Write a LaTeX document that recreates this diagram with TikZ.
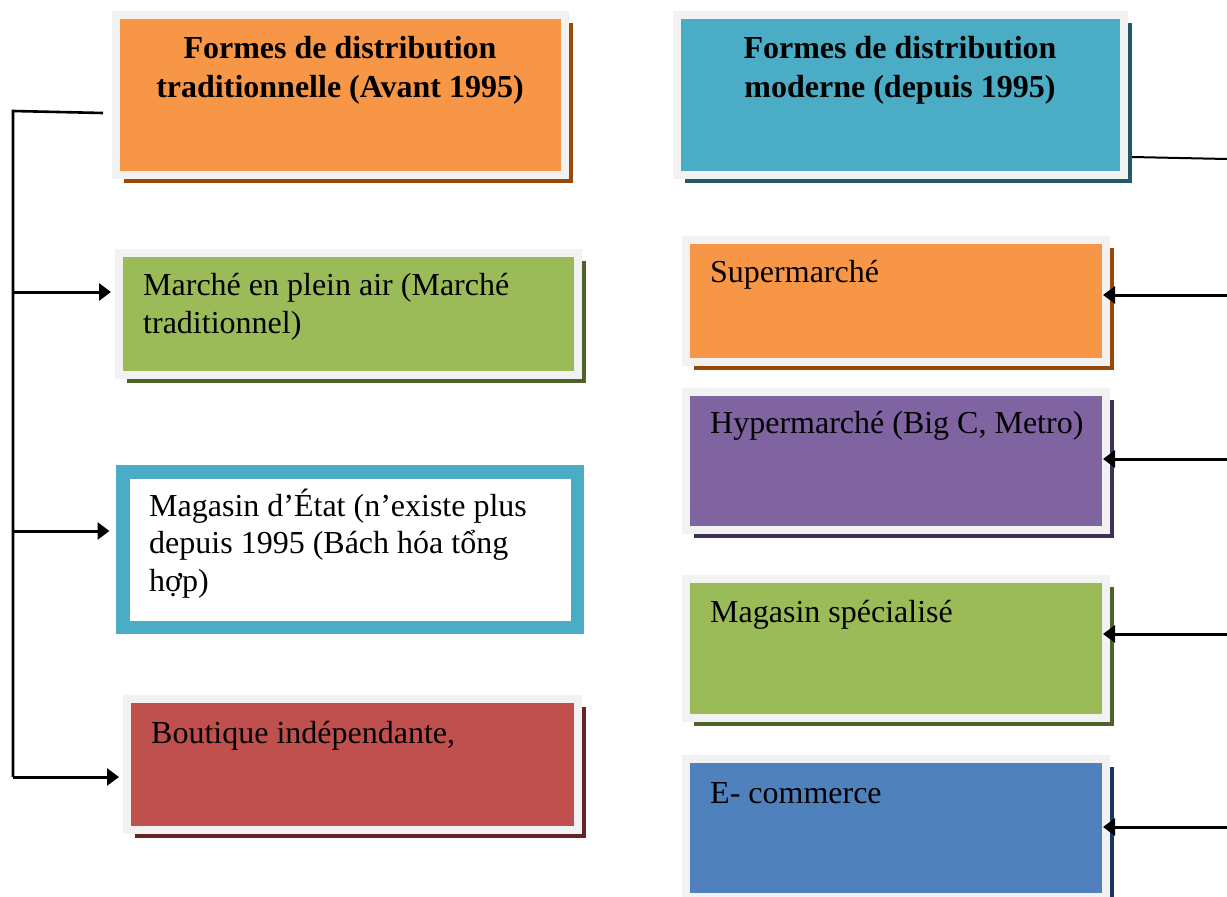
\documentclass[tikz,border=0pt]{standalone}
\usepackage{fontspec}
\setmainfont{Liberation Serif}
\usetikzlibrary{arrows.meta,shadows}
\definecolor{cOrange}{HTML}{F79646}
\definecolor{sOrange}{HTML}{984807}
\definecolor{cGreen}{HTML}{9BBB59}
\definecolor{sGreen}{HTML}{4F6228}
\definecolor{cCyan}{HTML}{4BACC6}
\definecolor{sCyan}{HTML}{215968}
\definecolor{cRed}{HTML}{C0504D}
\definecolor{sRed}{HTML}{632523}
\definecolor{cPurple}{HTML}{8064A2}
\definecolor{sPurple}{HTML}{3F3151}
\definecolor{cBlue}{HTML}{4F81BD}
\definecolor{sBlue}{HTML}{17375E}
\definecolor{frameGray}{HTML}{F2F2F2}
\tikzset{
  panel/.style n args={2}{rectangle, inner sep=0pt, draw=frameGray, line width=8pt,
    fill=#1, drop shadow={shadow xshift=8pt, shadow yshift=-8pt, fill=#2, opacity=1}},
  txt/.style={inner sep=0pt, font=\fontsize{32}{38.5}\selectfont, align=left, anchor=base west},
  htxt/.style={inner sep=0pt, font=\bfseries\fontsize{32}{39}\selectfont, align=center, anchor=base},
  conn/.style={line width=2.6pt, black},
  arr/.style={conn, line width=3pt, -{Triangle[length=12pt,width=17pt]}},
}
\begin{document}
\begin{tikzpicture}[x=1pt,y=-1pt]
\useasboundingbox (0,0) rectangle (1227,897);
\clip (0,0) rectangle (1227,897);
% left column
\node[panel={cOrange}{sOrange}, minimum width=449pt, minimum height=160pt] (trad) at (340.5,95) {};
\node[panel={cGreen}{sGreen}, minimum width=459pt, minimum height=122pt] (marche) at (348.5,314) {};
\node[rectangle, inner sep=0pt, draw=cCyan, line width=13.5pt, fill=white, minimum width=454.5pt, minimum height=155.5pt] (etat) at (350,549.5) {};
\node[panel={cRed}{sRed}, minimum width=451pt, minimum height=131pt] (boutique) at (352.5,764.5) {};
% right column
\node[panel={cCyan}{sCyan}, minimum width=447pt, minimum height=160pt] (moderne) at (900.5,95) {};
\node[panel={cOrange}{sOrange}, minimum width=420pt, minimum height=122pt] (super) at (896,301) {};
\node[panel={cPurple}{sPurple}, minimum width=420pt, minimum height=138pt] (hyper) at (896,461) {};
\node[panel={cGreen}{sGreen}, minimum width=420pt, minimum height=139pt] (spec) at (896,648.5) {};
\node[panel={cBlue}{sBlue}, minimum width=420pt, minimum height=138pt] (ecom) at (896,828) {};
% texts (base anchor = baseline of last line)
\node[htxt] (ttrad) at (340,97) {Formes de distribution\\traditionnelle (Avant 1995)};
\node[htxt] (tmod) at (900,97) {Formes de distribution\\moderne (depuis 1995)};
\node[txt] (tmarche) at (143,333.5) {Marché en plein air (Marché\\traditionnel)};
\node[txt, font=\fontsize{32}{37.5}\selectfont] (tetat) at (149,591) {Magasin d’État (n’existe plus\\depuis 1995 (Bách hóa tổng\\hợp)};
\node[txt] (tbout) at (151,743) {Boutique indépendante,};
\node[txt] (tsuper) at (710,282) {Supermarché};
\node[txt] (thyper) at (710,433) {Hypermarché (Big C, Metro)};
\node[txt] (tspec) at (710,622) {Magasin spécialisé};
\node[txt] (tecom) at (710,803) {E- commerce};
% left connectors
\coordinate (lstart) at (103,113);
\coordinate (ltop) at (13,111);
\coordinate (lb1) at (13,292);
\coordinate (lb2) at (13,531);
\coordinate (lbot) at (13,777);
\draw[conn] (lstart) -- (ltop) -- (lbot);
\draw[arr, shorten >=4pt] (lb1) -- (lb1 -| marche.west);
\draw[arr, shorten >=6.5pt] (lb2) -- (lb2 -| etat.west);
\draw[arr, shorten >=4pt] (lbot) -- (lbot -| boutique.west);
% right connectors
\coordinate (rtop) at (1227,159);
\coordinate (rmod) at (1132,157);
\draw[conn, line width=2pt] (rmod) -- (rtop);
\coordinate (r1) at (1227,295);
\coordinate (r2) at (1227,459);
\coordinate (r3) at (1227,634);
\coordinate (r4) at (1227,827);
\draw[arr, shorten >=-7pt] (r1) -- (r1 -| super.east);
\draw[arr, shorten >=-7pt] (r2) -- (r2 -| hyper.east);
\draw[arr, shorten >=-7pt] (r3) -- (r3 -| spec.east);
\draw[arr, shorten >=-7pt] (r4) -- (r4 -| ecom.east);
\end{tikzpicture}
\end{document}
